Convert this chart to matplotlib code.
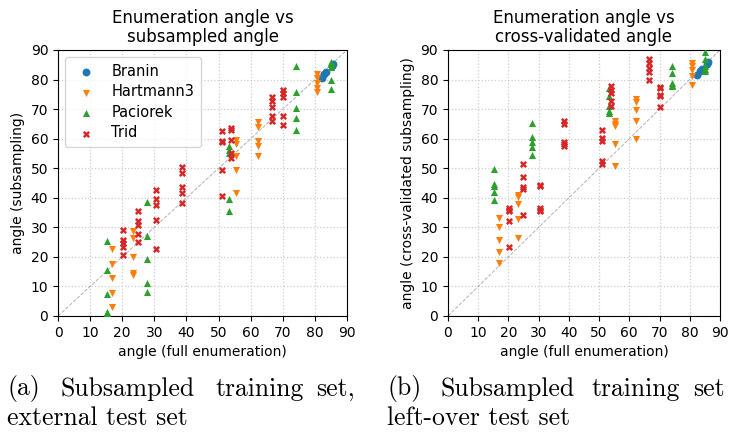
import matplotlib
matplotlib.use("Agg")
import matplotlib.pyplot as plt
import numpy as np

# x = angle of the full enumeration, one value per repeated run
# panel (a): subsampled angle, panel (b): cross-validated subsampling angle
branin_x = [82.1, 82.8, 83.4, 85.2, 85.7]
branin_a = [80.6, 82.0, 82.7, 84.7, 85.4]
branin_b_x = [82.5, 83.4, 84.0, 85.6, 86.0]
branin_b = [81.7, 82.8, 83.7, 85.4, 86.0]

hart_x = [16.8] * 5 + [23.3] * 5 + [55.4] * 5 + [62.3] * 5 + [80.6] * 5
hart_a = [22.6, 17.6, 12.8, 7.7, 2.9,
          28.6, 26.3, 20.1, 14.5, 14.0,
          59.7, 58.3, 54.2, 49.5, 41.6,
          65.5, 64.0, 59.3, 57.6, 54.0,
          82.0, 80.6, 78.9, 77.2, 75.7]
hart_b = [33.1, 30.1, 25.8, 21.8, 17.9,
          41.0, 37.9, 32.8, 26.3, 40.2,
          65.9, 64.4, 58.2, 50.8, 64.9,
          73.5, 72.4, 69.6, 66.1, 60.0,
          85.6, 83.4, 81.1, 78.3, 84.6]

pac_x = [15.2] * 5 + [27.8] * 5 + [53.2] * 5 + [74.0] * 5 + [84.9] * 5
pac_a = [25.4, 15.6, 7.3, 1.1, 1.5,
         38.7, 27.1, 19.3, 11.3, 8.0,
         57.6, 56.3, 55.2, 39.5, 35.4,
         84.5, 75.7, 70.4, 67.0, 63.1,
         85.9, 84.3, 80.0, 76.8, 85.2]
pac_b = [49.9, 44.7, 43.9, 41.8, 39.1,
         65.3, 60.6, 58.8, 57.2, 54.6,
         77.2, 74.6, 71.0, 69.3, 68.7,
         84.7, 82.3, 78.9, 77.8, 78.3,
         89.4, 86.8, 84.5, 82.8, 83.5]

trid_x = [20.2] * 5 + [24.8] * 5 + [30.6] * 5 + [38.5] * 5 + [51.1] * 5 \
    + [54.0] * 5 + [66.5] * 5 + [70.1] * 5
trid_a = [29.2, 25.8, 24.8, 23.3, 20.7,
          35.4, 32.0, 30.8, 27.8, 25.2,
          42.7, 39.5, 37.6, 32.5, 22.7,
          50.3, 48.4, 43.8, 41.6, 38.2,
          62.5, 59.1, 58.8, 49.3, 40.7,
          63.6, 62.8, 59.4, 55.1, 53.4,
          74.1, 72.9, 70.7, 67.6, 65.9,
          76.4, 75.3, 74.1, 67.8, 64.7]
trid_b = [36.5, 35.6, 32.3, 23.2, 36.0,
          51.5, 47.0, 43.6, 43.1, 34.2,
          44.2, 36.5, 35.4, 44.0, 35.9,
          66.1, 65.1, 58.8, 57.6, 58.2,
          62.8, 60.2, 59.3, 52.6, 51.5,
          77.7, 76.6, 75.5, 72.6, 71.0,
          86.8, 85.6, 84.0, 82.5, 79.8,
          77.5, 74.9, 70.7, 77.0, 74.5]

ticks = np.arange(0, 91, 10)
series_a = [
    ("Branin", branin_x, branin_a, "o", "tab:blue"),
    ("Hartmann3", hart_x, hart_a, "v", "tab:orange"),
    ("Paciorek", pac_x, pac_a, "^", "tab:green"),
    ("Trid", trid_x, trid_a, "X", "tab:red"),
]
series_b = [
    ("Branin", branin_b_x, branin_b, "o", "tab:blue"),
    ("Hartmann3", hart_x, hart_b, "v", "tab:orange"),
    ("Paciorek", pac_x, pac_b, "^", "tab:green"),
    ("Trid", trid_x, trid_b, "X", "tab:red"),
]

fig = plt.figure(figsize=(7.29, 4.34), dpi=100)
ax_a = fig.add_axes([0.0796, 0.2719, 0.3964, 0.6129])
ax_b = fig.add_axes([0.6145, 0.2719, 0.3731, 0.6129])

for ax, series, title, ylabel in [
    (ax_a, series_a, "Enumeration angle vs\nsubsampled angle", "angle (subsampling)"),
    (ax_b, series_b, "Enumeration angle vs\ncross-validated angle",
     "angle (cross-validated subsampling)"),
]:
    ax.plot([0, 90], [0, 90], color="gray", lw=0.7, ls="--", alpha=0.6, zorder=1)
    for name, xs, ys, marker, color in series:
        size = 32 if marker == "o" else 26
        ax.scatter(xs, ys, marker=marker, color=color, s=size, label=name,
                   linewidths=0, zorder=3)
    ax.set_xlim(0, 90)
    ax.set_ylim(0, 90)
    ax.set_xticks(ticks)
    ax.set_yticks(ticks)
    ax.grid(ls=":", color="#cccccc", lw=0.9)
    ax.set_axisbelow(True)
    ax.tick_params(labelsize=10)
    ax.set_title(title, fontsize=12, linespacing=1.05)
    ax.set_xlabel("angle (full enumeration)", fontsize=10)
    ax.set_ylabel(ylabel, fontsize=10)

ax_a.legend(loc="upper left", fontsize=10.5, handletextpad=0.7,
            borderpad=0.45, labelspacing=0.38, scatterpoints=1)

# sub-figure captions, justified word by word like the LaTeX layout
cap = dict(fontfamily="cmr10", fontsize=18.5, va="center", ha="left")
words_a = [("(a)", 7), ("Subsampled", 60), ("training", 215), ("set,", 316)]
words_b = [("(b)", 387), ("Subsampled", 441), ("training", 591), ("set", 693)]
for word, px in words_a + words_b:
    fig.text(px / 729, 1 - 389 / 434, word, **cap)
fig.text(7 / 729, 1 - 418 / 434, "external test set", **cap)
fig.text(387 / 729, 1 - 418 / 434, "left-over test set", **cap)

fig.savefig("out.png", dpi=100)
